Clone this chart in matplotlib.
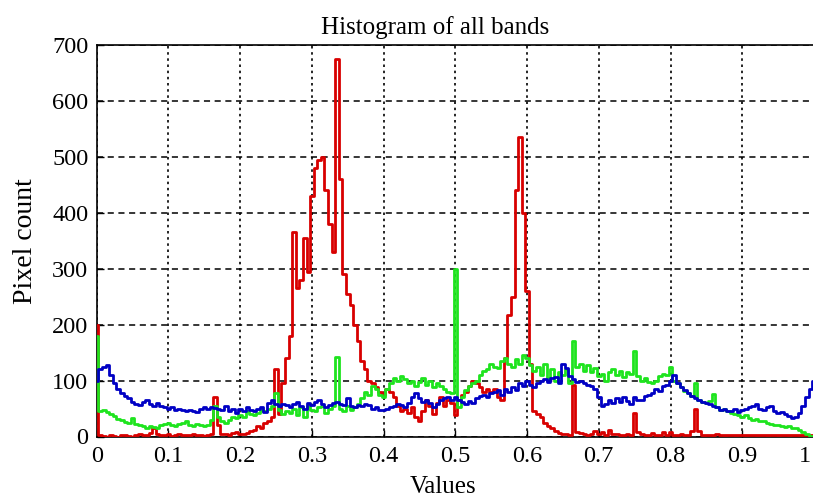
import numpy as np
import matplotlib
matplotlib.use("Agg")
import matplotlib.pyplot as plt
import matplotlib.transforms as mtransforms

# bin centres (0 .. 1 in 201 bins)
n_bins = 201
values = np.linspace(0.0, 1.0, n_bins)

red_counts = [
    200, 2, 1, 0, 2, 1, 0, 3, 2, 1, 0, 2, 4, 3, 2, 6, 15, 5, 3, 2,
    4, 1, 3, 5, 2, 3, 2, 4, 3, 2, 1, 3, 5, 70, 20, 5, 4, 3, 6, 8,
    5, 4, 7, 10, 12, 18, 15, 25, 28, 35, 120, 40, 95, 140, 180, 365, 265, 280, 355, 295,
    430, 480, 495, 500, 440, 380, 330, 675, 460, 290, 255, 235, 200, 170, 135, 120, 100, 95, 88, 80,
    75, 85, 80, 70, 55, 45, 50, 42, 52, 35, 27, 45, 65, 55, 40, 60, 70, 55, 65, 60,
    38, 65, 75, 80, 90, 100, 95, 88, 80, 85, 80, 85, 70, 65, 140, 218, 250, 440, 535, 400,
    260, 130, 45, 40, 35, 25, 18, 15, 10, 6, 5, 4, 3, 92, 8, 6, 4, 3, 5, 10,
    4, 8, 3, 12, 5, 4, 3, 2, 4, 3, 42, 8, 4, 3, 2, 6, 3, 2, 8, 3,
    8, 2, 3, 5, 2, 3, 10, 50, 10, 3, 2, 3, 2, 4, 2, 3, 2, 2, 3, 2,
    3, 2, 2, 3, 2, 2, 3, 2, 2, 2, 3, 2, 2, 2, 3, 2, 2, 2, 2, 2, 2,
]

green_counts = [
    180, 45, 47, 44, 40, 36, 32, 30, 26, 24, 33, 22, 20, 18, 16, 18, 17, 15, 20, 22,
    24, 20, 18, 22, 25, 27, 20, 18, 22, 20, 19, 21, 30, 55, 35, 28, 25, 30, 35, 33,
    38, 35, 45, 40, 38, 42, 48, 45, 50, 55, 78, 48, 40, 45, 42, 50, 38, 52, 35, 55,
    48, 45, 52, 55, 42, 50, 55, 142, 50, 45, 55, 48, 52, 58, 68, 80, 75, 90, 85, 75,
    70, 85, 95, 105, 100, 108, 102, 95, 100, 90, 98, 105, 92, 100, 88, 95, 90, 85, 80, 78,
    300, 53, 70, 83, 90, 95, 100, 110, 118, 120, 130, 125, 122, 135, 140, 130, 125, 138, 130, 145,
    140, 128, 118, 125, 110, 130, 105, 120, 100, 115, 110, 120, 95, 170, 125, 130, 118, 128, 115, 122,
    108, 112, 100, 115, 120, 110, 118, 106, 115, 112, 152, 108, 100, 104, 98, 95, 100, 108, 112, 110,
    125, 100, 95, 88, 82, 78, 72, 95, 66, 62, 60, 64, 76, 52, 48, 50, 45, 42, 40, 38,
    35, 38, 33, 30, 32, 28, 27, 25, 22, 20, 21, 18, 17, 19, 16, 15, 12, 8, 4, 1, 0,
]

blue_counts = [
    100, 120, 125, 128, 110, 95, 85, 77, 72, 68, 62, 58, 56, 62, 65, 58, 54, 60, 55, 52,
    50, 53, 48, 50, 47, 45, 48, 46, 44, 50, 52, 50, 53, 51, 50, 48, 55, 45, 50, 42,
    50, 45, 53, 48, 46, 50, 52, 44, 60, 65, 58, 55, 59, 56, 53, 58, 62, 55, 50, 60,
    56, 62, 65, 58, 53, 56, 60, 62, 58, 56, 68, 55, 53, 56, 54, 58, 56, 50, 53, 48,
    47, 50, 52, 55, 58, 56, 53, 60, 70, 77, 68, 62, 66, 60, 53, 58, 65, 68, 71, 66,
    70, 65, 62, 59, 64, 60, 68, 72, 75, 71, 77, 80, 83, 75, 85, 80, 88, 84, 95, 90,
    100, 92, 88, 95, 100, 103, 98, 105, 107, 95, 130, 122, 108, 102, 98, 100, 95, 92, 90, 85,
    70, 55, 58, 65, 60, 68, 62, 70, 64, 59, 70, 66, 65, 72, 75, 78, 85, 82, 90, 92,
    100, 110, 95, 88, 83, 78, 72, 68, 65, 62, 60, 58, 55, 52, 48, 50, 46, 45, 50, 44,
    47, 50, 53, 55, 58, 50, 48, 52, 55, 45, 42, 44, 40, 36, 33, 35, 42, 55, 70, 85, 100,
]

x_ticks = [0, 0.1, 0.2, 0.3, 0.4, 0.5, 0.6, 0.7, 0.8, 0.9, 1]
x_tick_labels = ["0", "0.1", "0.2", "0.3", "0.4", "0.5", "0.6", "0.7", "0.8", "0.9", "1"]
y_ticks = [0, 100, 200, 300, 400, 500, 600, 700]

plt.rcParams['font.family'] = ['Liberation Serif', 'DejaVu Serif']

W, H = 813, 501
fig = plt.figure(figsize=(W / 100, H / 100), dpi=100)
x0, x1 = 96.7, 814.0
y0, y1 = 436.5, 45.0
ax = fig.add_axes([x0 / W, 1 - y0 / H, (x1 - x0) / W, (y0 - y1) / H])

ax.plot(values, red_counts, color='#d80000', lw=2.0, drawstyle='steps-mid', zorder=3)
ax.plot(values, green_counts, color='#1ee41e', lw=2.0, drawstyle='steps-mid', zorder=4)
ax.plot(values, blue_counts, color='#0000c4', lw=2.0, drawstyle='steps-mid', zorder=5)

ax.set_xlim(0, 1)
ax.set_ylim(0, 700)
ax.set_xticks(x_ticks)
ax.set_xticklabels(x_tick_labels)
ax.set_yticks(y_ticks)

ax.xaxis.grid(True, linestyle=(0, (1.5, 2.2)), color='black', lw=1.2)
ax.yaxis.grid(True, linestyle=(0, (4, 3)), color='black', lw=1.1)
ax.set_axisbelow(True)

ax.tick_params(axis='both', direction='in', length=5, width=1, labelsize=17.5, colors='black')
ax.tick_params(axis='x', pad=7)
ax.tick_params(axis='y', pad=6)
for s in ['left', 'bottom', 'top']:
    ax.spines[s].set_linewidth(1.2)
    ax.spines[s].set_color('black')
ax.spines['right'].set_visible(False)

# keep the last tick label ("1") inside the canvas
last = ax.get_xticklabels()[-1]
last.set_horizontalalignment('right')
last.set_transform(last.get_transform() +
                   mtransforms.ScaledTranslation(-3 / 100, 0, fig.dpi_scale_trans))

ax.set_title('Histogram of all bands', fontsize=18, pad=8, x=0.472)
ax.set_xlabel('Values', fontsize=18)
ax.xaxis.set_label_coords(0.4835, -0.102)
ax.set_ylabel('Pixel count', fontsize=20, labelpad=10)

fig.savefig('out.png', dpi=100)
